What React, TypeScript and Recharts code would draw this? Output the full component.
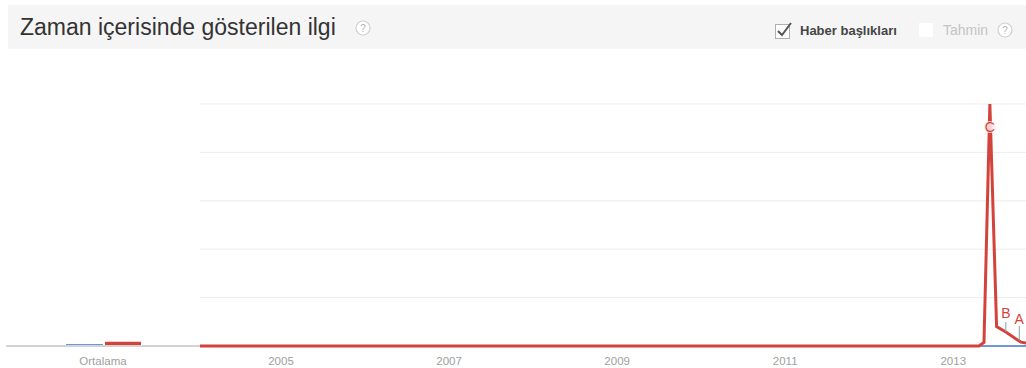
import { ComposedChart, Line, XAxis, YAxis, CartesianGrid, ReferenceLine, ReferenceDot, BarChart, Bar } from 'recharts'

const FONT = "Arial, 'Liberation Sans', sans-serif"

// decimal year of each point
const TIME = [2004.0, 2013.27, 2013.33, 2013.4, 2013.48, 2013.59, 2013.73, 2013.77, 2013.83]
const RED_VALUES = [0, 0, 1.5, 100, 8, 5.8, 2.5, 1.6, 1.2]
const BLUE_VALUES = [0, 0, 0, 0, 0, 0, 0, 0, 0]
const YEAR_TICKS = [2005, 2007, 2009, 2011, 2013]
const Y_TICKS = [0, 20, 40, 60, 80, 100]

// news annotations: letter, time, curve value, line top, letter value
const NOTE_LETTERS = ['C', 'B', 'A']
const NOTE_TIME = [2013.4, 2013.59, 2013.75]
const NOTE_ANCHOR = [90, 5.8, 2.2]
const NOTE_TOP = [90, 9.9, 8.3]
const NOTE_LETTER_VALUE = [90.5, 13.6, 11.2]

const AVG_LABEL = 'Ortalama'
const AVG_BLUE = 0.8
const AVG_RED = 1.8

const RED = '#d3433c'
const BLUE = '#6f98d2'

const data = TIME.map((t, i) => ({ t, red: RED_VALUES[i], blue: BLUE_VALUES[i] }))
const avgData = [{ name: AVG_LABEL, blue: AVG_BLUE, red: AVG_RED }]

function HelpIcon({ left, top }: { left: number; top: number }) {
  return (
    <svg width={18} height={18} style={{ position: 'absolute', left, top }}>
      <circle cx={9} cy={9} r={7} fill="#fff" stroke="#d0d0d0" strokeWidth={1.2} />
      <text x={9} y={12.5} textAnchor="middle" fontSize={10} fill="#b5b5b5" fontFamily={FONT}>?</text>
    </svg>
  )
}

export default function App() {
  return (
    <div style={{ position: 'absolute', left: 0, top: 0, width: 1026, height: 368, background: '#fff', fontFamily: FONT }}>
      <div style={{ position: 'absolute', left: 8, top: 5, width: 1018, height: 44, background: '#f5f5f5' }} />
      <div style={{ position: 'absolute', left: 20, top: 14, fontSize: 23, color: '#333', whiteSpace: 'nowrap' }}>
        Zaman içerisinde gösterilen ilgi
      </div>
      <HelpIcon left={354} top={19} />

      <svg width={22} height={22} style={{ position: 'absolute', left: 774, top: 20 }}>
        <rect x={1.5} y={4.5} width={14} height={14} fill="#fff" stroke="#b0b0b0" />
        <path d="M4 11 L8 15 L17 3" fill="none" stroke="#555" strokeWidth={2} />
      </svg>
      <div style={{ position: 'absolute', left: 800, top: 23, fontSize: 13, fontWeight: 'bold', color: '#444', whiteSpace: 'nowrap' }}>
        Haber başlıkları
      </div>
      <div style={{ position: 'absolute', left: 919, top: 23, width: 14, height: 14, background: '#fff' }} />
      <div style={{ position: 'absolute', left: 943, top: 22, fontSize: 14, color: '#c4c4c4', whiteSpace: 'nowrap' }}>
        Tahmin
      </div>
      <HelpIcon left={996} top={21} />

      <div style={{ position: 'absolute', left: 6, top: 94 }}>
        <BarChart width={194} height={274} data={avgData} margin={{ top: 10, right: 0, left: 0, bottom: 0 }} barGap={2}>
          <XAxis dataKey="name" height={22} axisLine={{ stroke: '#d3d3d3', strokeWidth: 2 }} tickLine={false} tickMargin={5}
            tick={{ fontSize: 11.5, fill: '#a0a0a0', fontFamily: FONT }} />
          <YAxis hide domain={[0, 100]} />
          <Bar dataKey="blue" fill={BLUE} barSize={37} isAnimationActive={false} />
          <Bar dataKey="red" fill={RED} barSize={36} isAnimationActive={false} />
        </BarChart>
      </div>

      <div style={{ position: 'absolute', left: 200, top: 94 }}>
        <ComposedChart width={826} height={274} data={data} margin={{ top: 10, right: 0, left: 0, bottom: 0 }}>
          <CartesianGrid vertical={false} stroke="#ececec" />
          <XAxis dataKey="t" type="number" domain={[2004, 2013.83]} ticks={YEAR_TICKS} height={22}
            axisLine={false} tickLine={false} tickMargin={5} dx={-3}
            tick={{ fontSize: 11.5, fill: '#a0a0a0', fontFamily: FONT }} />
          <YAxis hide domain={[0, 100]} ticks={Y_TICKS} />
          <Line dataKey="blue" type="linear" stroke={BLUE} strokeWidth={2} dot={false} isAnimationActive={false} />
          <Line dataKey="red" type="linear" stroke={RED} strokeWidth={3} dot={false} isAnimationActive={false} />
          {NOTE_LETTERS.map((l, i) => (
            <ReferenceLine key={'l' + l}
              segment={[{ x: NOTE_TIME[i], y: NOTE_ANCHOR[i] }, { x: NOTE_TIME[i], y: NOTE_TOP[i] }]}
              stroke="#7fa3a8" strokeWidth={1} />
          ))}
          {NOTE_LETTERS.map((l, i) => (
            <ReferenceDot key={'d' + l} x={NOTE_TIME[i]} y={NOTE_LETTER_VALUE[i]} r={i === 0 ? 6 : 0}
              fill="rgba(255,235,235,0.85)" stroke="none"
              label={{ value: l, position: 'center', fill: RED, fontSize: 14, fontFamily: FONT }} />
          ))}
        </ComposedChart>
      </div>
    </div>
  )
}
